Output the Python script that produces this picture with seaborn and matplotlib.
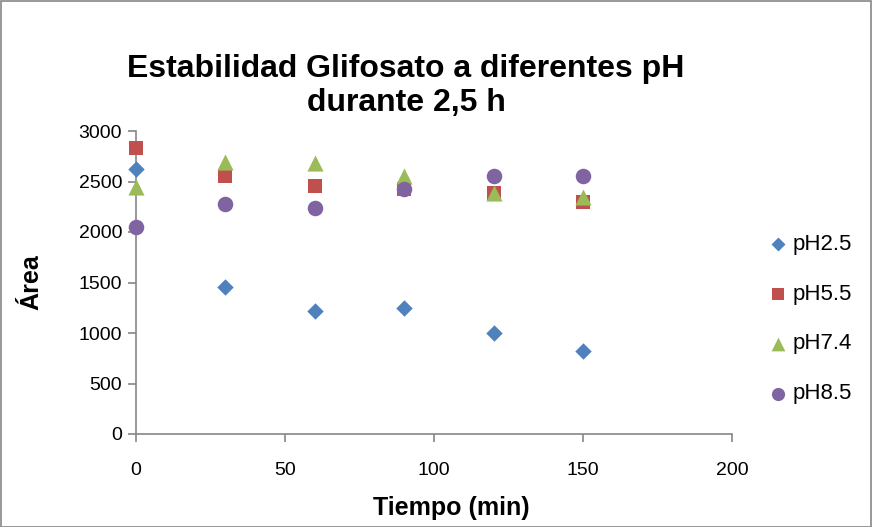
import matplotlib
matplotlib.use("Agg")
import matplotlib.pyplot as plt
from matplotlib.patches import Rectangle
import seaborn as sns
import pandas as pd

# Measured peak areas over time for each pH
tiempo = [0, 30, 60, 90, 120, 150]
ph25 = [2620, 1455, 1218, 1248, 1000, 822]
ph55 = [2830, 2555, 2455, 2426, 2386, 2297]
ph74 = [2445, 2690, 2685, 2550, 2390, 2345]
ph85 = [2050, 2277, 2238, 2426, 2554, 2554]
series = ["pH2.5", "pH5.5", "pH7.4", "pH8.5"]

df = pd.concat([
    pd.DataFrame({"Tiempo": tiempo, "Area": vals, "Serie": name})
    for name, vals in zip(series, [ph25, ph55, ph74, ph85])
], ignore_index=True)

sns.set_theme(style="white")
plt.rcParams["font.family"] = ["Liberation Sans", "DejaVu Sans"]
plt.rcParams["text.color"] = "black"
plt.rcParams["axes.labelcolor"] = "black"

palette = {"pH2.5": "#4F81BD", "pH5.5": "#C0504D", "pH7.4": "#9BBB59", "pH8.5": "#8064A2"}
markers = {"pH2.5": "D", "pH5.5": "s", "pH7.4": "^", "pH8.5": "o"}
sizes = {"pH2.5": 70, "pH5.5": 115, "pH7.4": 135, "pH8.5": 125}

fig = plt.figure(figsize=(8.72, 5.27), dpi=100)
ax = fig.add_axes([136 / 872, 93 / 527, 596 / 872, 303 / 527])

for name in series:
    sub = df[df["Serie"] == name]
    sns.scatterplot(data=sub, x="Tiempo", y="Area", color=palette[name],
                    marker=markers[name], s=sizes[name], linewidth=0,
                    label=name, ax=ax, zorder=3, clip_on=False)

ax.set_xlim(0, 200)
ax.set_ylim(0, 3000)
ax.set_xticks(range(0, 201, 50))
ax.set_yticks(range(0, 3001, 500))
for side in ["top", "right"]:
    ax.spines[side].set_visible(False)
for side in ["left", "bottom"]:
    ax.spines[side].set_color("#868686")
    ax.spines[side].set_linewidth(1.2)
ax.tick_params(axis="both", direction="out", length=6, width=1.2, color="#868686",
               labelsize=14, labelcolor="black", left=True, bottom=True)
ax.tick_params(axis="x", pad=14)
ax.tick_params(axis="y", pad=4)

ax.set_xlabel("Tiempo (min)", fontsize=18, fontweight="bold")
ax.xaxis.set_label_coords(0.529, -0.205)
ax.set_ylabel("Área", fontsize=18, fontweight="bold")
ax.yaxis.set_label_coords(-0.156, 0.50)

fig.text(406 / 872, 1 - 86 / 527, "Estabilidad Glifosato a diferentes pH\ndurante 2,5 h",
         ha="center", va="center", fontsize=23, fontweight="bold", linespacing=1.2)

leg = ax.legend(loc="center left", bbox_to_anchor=(746 / 872, 1 - 319 / 527),
                bbox_transform=fig.transFigure, frameon=False, fontsize=16,
                labelspacing=1.3, handletextpad=0.1, handlelength=1.1, markerscale=0.85)

fig.patches.append(Rectangle((0.5 / 872, 0.5 / 527), 1 - 1.5 / 872, 1 - 1.5 / 527,
                             transform=fig.transFigure, fill=False,
                             edgecolor="#868686", linewidth=1.2))

fig.savefig("out.png", dpi=100)
